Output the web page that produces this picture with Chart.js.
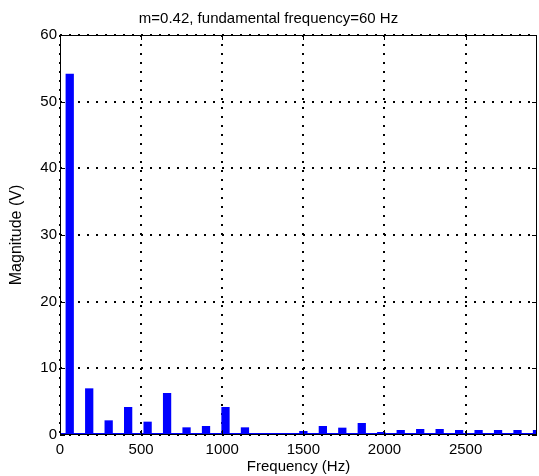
<!DOCTYPE html>
<html>
<head>
<meta charset="utf-8">
<script src="https://cdn.jsdelivr.net/npm/chart.js@4/dist/chart.umd.min.js"></script>
<style>
  html, body { margin: 0; padding: 0; background: #fff; }
  #wrap { width: 539px; height: 476px; }
</style>
</head>
<body>
<div id="wrap"><canvas id="myChart" width="539" height="476"></canvas></div>
<script>
// harmonic frequencies (Hz)
const frequencies = [60, 120, 180, 240, 300, 360, 420, 480, 540, 600,
  660, 720, 780, 840, 900, 960, 1020, 1080, 1140, 1200,
  1260, 1320, 1380, 1440, 1500, 1560, 1620, 1680, 1740, 1800,
  1860, 1920, 1980, 2040, 2100, 2160, 2220, 2280, 2340, 2400,
  2460, 2520, 2580, 2640, 2700, 2760, 2820, 2880, 2940];
// magnitudes (V)
const magnitudes = [54.2, 0.1, 7.0, 0.1, 2.2, 0.1, 4.2, 0.1, 2.0, 0.25,
  6.3, 0.1, 1.15, 0.1, 1.35, 0.1, 4.2, 0.1, 1.15, 0.1,
  0.25, 0.1, 0.12, 0.1, 0.6, 0.1, 1.35, 0.1, 1.1, 0.1,
  1.8, 0.1, 0.45, 0.1, 0.75, 0.1, 0.9, 0.1, 0.9, 0.1,
  0.75, 0.1, 0.75, 0.1, 0.75, 0.1, 0.75, 0.1, 0.75];
const xTicks = [0, 500, 1000, 1500, 2000, 2500];
const yTicks = [0, 10, 20, 30, 40, 50, 60];
const xMax = 2940;
const yMax = 60;
const titleText = 'm=0.42, fundamental frequency=60 Hz';

const FONT = 'Liberation Sans, Arial, sans-serif';

// MATLAB-like box with inward ticks
const boxPlugin = {
  id: 'box',
  afterDatasetsDraw(chart) {
    const { ctx, chartArea: a, scales } = chart;
    ctx.save();
    // blue baseline
    const y0 = Math.round(scales.y.getPixelForValue(0));
    ctx.strokeStyle = '#0000ff';
    ctx.lineWidth = 1;
    ctx.beginPath();
    ctx.moveTo(a.left, y0 - 1.5);
    ctx.lineTo(a.right, y0 - 1.5);
    ctx.stroke();
    ctx.strokeStyle = '#000';
    ctx.strokeRect(a.left + 0.5, a.top + 0.5, a.right - a.left - 1, a.bottom - a.top - 1);
    const tl = 5;
    ctx.beginPath();
    scales.x.ticks.forEach(t => {
      const x = Math.round(scales.x.getPixelForValue(t.value)) + 0.5;
      ctx.moveTo(x, a.bottom); ctx.lineTo(x, a.bottom - tl);
      ctx.moveTo(x, a.top); ctx.lineTo(x, a.top + tl);
    });
    scales.y.ticks.forEach(t => {
      const y = Math.round(scales.y.getPixelForValue(t.value)) + 0.5;
      ctx.moveTo(a.left, y); ctx.lineTo(a.left + tl, y);
      ctx.moveTo(a.right, y); ctx.lineTo(a.right - tl, y);
    });
    ctx.stroke();
    ctx.restore();
  }
};

new Chart(document.getElementById('myChart').getContext('2d'), {
  type: 'bar',
  data: {
    datasets: [{
      data: frequencies.map((f, i) => ({ x: f, y: magnitudes[i] })),
      backgroundColor: '#0000ff',
      borderWidth: 0,
      barPercentage: 0.85,
      categoryPercentage: 1.0
    }]
  },
  options: {
    responsive: false,
    animation: false,
    layout: { padding: { left: 0, right: 2, top: 0, bottom: 0 } },
    plugins: {
      legend: { display: false },
      tooltip: { enabled: false },
      title: {
        display: true,
        text: titleText,
        color: '#000',
        font: { family: FONT, size: 15, weight: 'normal' },
        padding: { top: 10, bottom: 7 }
      }
    },
    scales: {
      x: {
        type: 'linear',
        min: 0,
        max: xMax,
        offset: false,
        grid: { color: '#000', lineWidth: 2, drawTicks: false, offset: false },
        border: { display: false, dash: [2, 7] },
        afterBuildTicks(scale) { scale.ticks = xTicks.map(v => ({ value: v })); },
        ticks: {
          color: '#000',
          padding: 6,
          maxRotation: 0,
          autoSkip: false,
          font: { family: FONT, size: 15 },
          callback: v => String(v)
        },
        title: {
          display: true,
          text: 'Frequency (Hz)',
          color: '#000',
          font: { family: FONT, size: 15 },
          padding: { top: 0, bottom: 0 }
        },
        afterFit(scale) { scale.height = 41; }
      },
      y: {
        min: 0,
        max: yMax,
        grid: { color: '#000', lineWidth: 2, drawTicks: false },
        border: { display: false, dash: [2, 7] },
        afterBuildTicks(scale) { scale.ticks = yTicks.map(v => ({ value: v })); },
        ticks: {
          color: '#000',
          padding: 3,
          font: { family: FONT, size: 15 },
          callback: v => String(v)
        },
        title: {
          display: true,
          text: 'Magnitude (V)',
          color: '#000',
          font: { family: FONT, size: 16 },
          padding: { top: 7, bottom: 0 }
        },
        afterFit(scale) { scale.width = 60; }
      }
    }
  },
  plugins: [boxPlugin]
});
</script>
</body>
</html>
